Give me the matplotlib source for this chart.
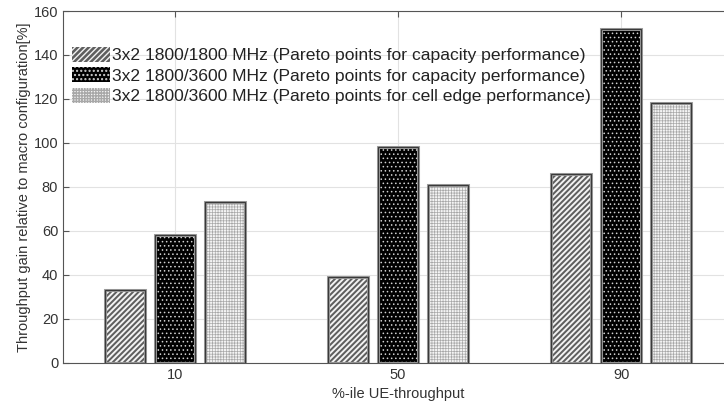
import matplotlib.pyplot as plt
import numpy as np

plt.rcParams['font.family'] = ['Liberation Sans', 'DejaVu Sans']

# data
groups = ['10', '50', '90']
cap_1800 = [33, 39, 86]
cap_3600 = [58, 98, 152]
edge_3600 = [73, 81, 118]
labels = ['3x2 1800/1800 MHz (Pareto points for capacity performance)',
          '3x2 1800/3600 MHz (Pareto points for capacity performance)',
          '3x2 1800/3600 MHz (Pareto points for cell edge performance)']

# fill styles: facecolor, hatch colour, hatch, hatch linewidth
styles = [('#5e5e5e', '#f2f2f2', '//////', 1.4),
          ('black', '#d0d0d0', '....', 0.6),
          ('#f4f4f4', '#a8a8a8', '++++++', 0.5)]

fig = plt.figure(figsize=(7.24, 4.03), dpi=100)
ax = fig.add_axes([0.087, 0.0993, 0.925, 0.8734])

x = np.arange(1, len(groups) + 1)
offsets = [-0.224, 0, 0.224]
w = 0.18
handles = []
for vals, off, (fc, hc, hatch, hlw), lab in zip([cap_1800, cap_3600, edge_3600], offsets, styles, labels):
    with plt.rc_context({'hatch.linewidth': hlw}):
        ax.bar(x + off, vals, w, color=fc, edgecolor=hc, hatch=hatch, lw=0, zorder=3)
        h = plt.Rectangle((0, 0), 1, 1, facecolor=fc, edgecolor=hc, hatch=hatch, lw=0)
    ax.bar(x + off, vals, w, facecolor='none', edgecolor='#a0a0a0', lw=2.2, zorder=3)
    ax.bar(x + off, vals, w, facecolor='none', edgecolor='#3a3a3a', lw=0.9, zorder=4)
    handles.append(h)

ax.set_xlim(0.5, 3.5)
ax.set_ylim(0, 160)
ax.set_xticks(x)
ax.set_xticklabels(groups)
ax.set_yticks(np.arange(0, 161, 20))
ax.grid(True, color='#e2e2e2', lw=0.8, zorder=0)
ax.tick_params(direction='in', length=4, top=True, right=False, labelsize=10.5,
               colors='#555555', labelcolor='#333333')
for s in ['left', 'bottom', 'top']:
    ax.spines[s].set_color('#555555')
    ax.spines[s].set_linewidth(0.8)
ax.spines['right'].set_visible(False)

ax.set_xlabel('%-ile UE-throughput', fontsize=10.5, color='#333333', labelpad=4)
ax.set_ylabel('Throughput gain relative to macro configuration[%]', fontsize=10.5,
              color='#333333', labelpad=2)

leg = ax.legend(handles, labels, loc='upper left', bbox_to_anchor=(0.0134, 0.898),
                frameon=False, fontsize=12.6, handlelength=2.2, handleheight=0.95,
                handletextpad=0.08, labelspacing=0.22, borderaxespad=0, borderpad=0)
for t in leg.get_texts():
    t.set_color('#222222')

fig.savefig('out.png', dpi=100)
